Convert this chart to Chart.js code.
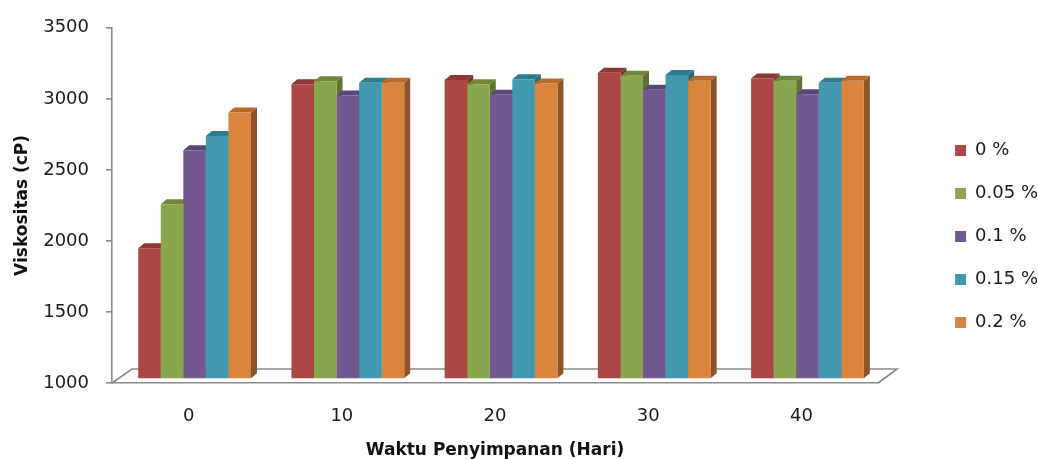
<!DOCTYPE html>
<html lang="id">
<head>
<meta charset="UTF-8">
<title>Viskositas selama penyimpanan</title>
<script src="https://cdn.jsdelivr.net/npm/chart.js@4.4.1/dist/chart.umd.min.js"></script>
<style>
  html, body { margin: 0; padding: 0; background: #ffffff; }
  #wadah { width: 1038px; height: 459px; }
</style>
</head>
<body>
<div id="wadah"><canvas id="grafikViskositas" width="1038" height="459"></canvas></div>
<script>
// Lama penyimpanan (hari) - sumbu X
const hariPenyimpanan = ["0", "10", "20", "30", "40"];

// Konsentrasi yang diuji (nama seri)
const konsentrasi = ["0 %", "0.05 %", "0.1 %", "0.15 %", "0.2 %"];

// Viskositas (cP) tiap konsentrasi per hari
const visk0   = [1920, 3075, 3105, 3155, 3115];
const visk005 = [2230, 3095, 3075, 3135, 3100];
const visk01  = [2610, 2995, 3000, 3035, 3005];
const visk015 = [2710, 3085, 3110, 3140, 3085];
const visk02  = [2875, 3085, 3080, 3100, 3100];

// Label tick sumbu Y
const tickY = [1000, 1500, 2000, 2500, 3000, 3500];

// Warna muka depan, atas dan samping batang
const warnaDepan   = ["#AA4643", "#89A54E", "#71588F", "#4198AF", "#DB843D"];
const warnaAtas    = ["#8C3836", "#6F863C", "#5B4776", "#2F7C90", "#B86A2C"];
const warnaSamping = ["#7A2E2C", "#5F7433", "#4C3B63", "#28687A", "#8E5427"];

document.addEventListener("DOMContentLoaded", function() {
  Chart.defaults.font.family = "'DejaVu Sans', sans-serif";
  Chart.defaults.color = "#1a1a1a";

  const semuaData = [visk0, visk005, visk01, visk015, visk02];
  const garisAbu = "#8a8a8a";

  // Tebal sisi 3D dan pergeseran batang ke tengah lantai
  const tebal = { dx: 6, dy: 5 };
  const geser = { x: 6, y: -4 };

  // Plugin: lantai 3D + sisi atas/samping tiap batang
  const efek3D = {
    id: "efek3D",
    beforeDatasetsDraw(chart) {
      const { ctx, chartArea } = chart;
      const { left, right, bottom } = chartArea;

      // Lantai (garis belakang dan diagonal)
      ctx.save();
      ctx.strokeStyle = garisAbu;
      ctx.lineWidth = 1.6;
      ctx.beginPath();
      ctx.moveTo(left, bottom);
      ctx.lineTo(left + 20, bottom - 14);
      ctx.lineTo(right + 19, bottom - 14);
      ctx.lineTo(right, bottom);
      ctx.stroke();
      ctx.restore();

      // Batang digeser sedikit ke belakang; restore di afterDatasetsDraw
      ctx.save();
      ctx.translate(geser.x, geser.y);

      chart.data.datasets.forEach((ds, i) => {
        const meta = chart.getDatasetMeta(i);
        meta.data.forEach(bar => {
          const { x, y, base, width } = bar.getProps(["x", "y", "base", "width"], true);
          const kiri = x - width / 2;
          const kanan = x + width / 2;

          // sisi samping kanan
          ctx.fillStyle = warnaSamping[i];
          ctx.beginPath();
          ctx.moveTo(kanan, y);
          ctx.lineTo(kanan + tebal.dx, y - tebal.dy);
          ctx.lineTo(kanan + tebal.dx, base - tebal.dy);
          ctx.lineTo(kanan, base);
          ctx.closePath();
          ctx.fill();

          // sisi atas
          ctx.fillStyle = warnaAtas[i];
          ctx.beginPath();
          ctx.moveTo(kiri, y);
          ctx.lineTo(kiri + tebal.dx, y - tebal.dy);
          ctx.lineTo(kanan + tebal.dx, y - tebal.dy);
          ctx.lineTo(kanan, y);
          ctx.closePath();
          ctx.fill();
        });
      });
    },
    afterDatasetsDraw(chart) {
      chart.ctx.restore();
    }
  };

  const ctx = document.getElementById("grafikViskositas");

  new Chart(ctx, {
    type: "bar",
    data: {
      labels: hariPenyimpanan,
      datasets: konsentrasi.map((nama, i) => ({
        label: nama,
        data: semuaData[i],
        backgroundColor: warnaDepan[i],
        borderWidth: 0,
        barPercentage: 1.0,
        categoryPercentage: 0.736,
        base: tickY[0],
        yAxisID: "y",
        clip: false
      }))
    },
    options: {
      responsive: false,
      animation: false,
      devicePixelRatio: 1,
      layout: {
        padding: { top: 21, right: -10, bottom: 7, left: 0 }
      },
      scales: {
        x: {
          grid: { display: false, drawTicks: false },
          border: { display: true, color: garisAbu, width: 1.6 },
          ticks: { padding: 23, font: { size: 18 } },
          title: {
            display: true,
            text: "Waktu Penyimpanan (Hari)",
            color: "#111111",
            font: { size: 17, weight: "bold", lineHeight: 1 },
            padding: { top: 4, bottom: -7 }
          },
          afterFit(s) { s.height = 69; }
        },
        y: {
          min: tickY[0],
          max: tickY[tickY.length - 1],
          ticks: {
            stepSize: tickY[1] - tickY[0],
            padding: 17,
            font: { size: 18 },
            callback: value => String(value)
          },
          grid: { drawOnChartArea: false, drawTicks: true, tickLength: 6, color: garisAbu, lineWidth: 1.6 },
          border: { color: garisAbu, width: 1.6 },
          title: {
            display: true,
            text: "Viskositas (cP)",
            color: "#111111",
            font: { size: 17, weight: "bold" },
            padding: { top: 12, bottom: 0 }
          },
          afterFit(s) { s.width = 112; }
        },
        // ruang kosong antara area plot dan legenda
        jarak: {
          position: "right",
          display: true,
          grid: { display: false },
          border: { display: false },
          ticks: { display: false },
          afterFit(s) { s.width = 52; }
        }
      },
      plugins: {
        legend: {
          position: "right",
          labels: {
            boxWidth: 11,
            boxHeight: 11,
            padding: 25,
            font: { size: 18 }
          }
        },
        tooltip: { enabled: false }
      }
    },
    plugins: [efek3D]
  });
});
</script>
</body>
</html>
